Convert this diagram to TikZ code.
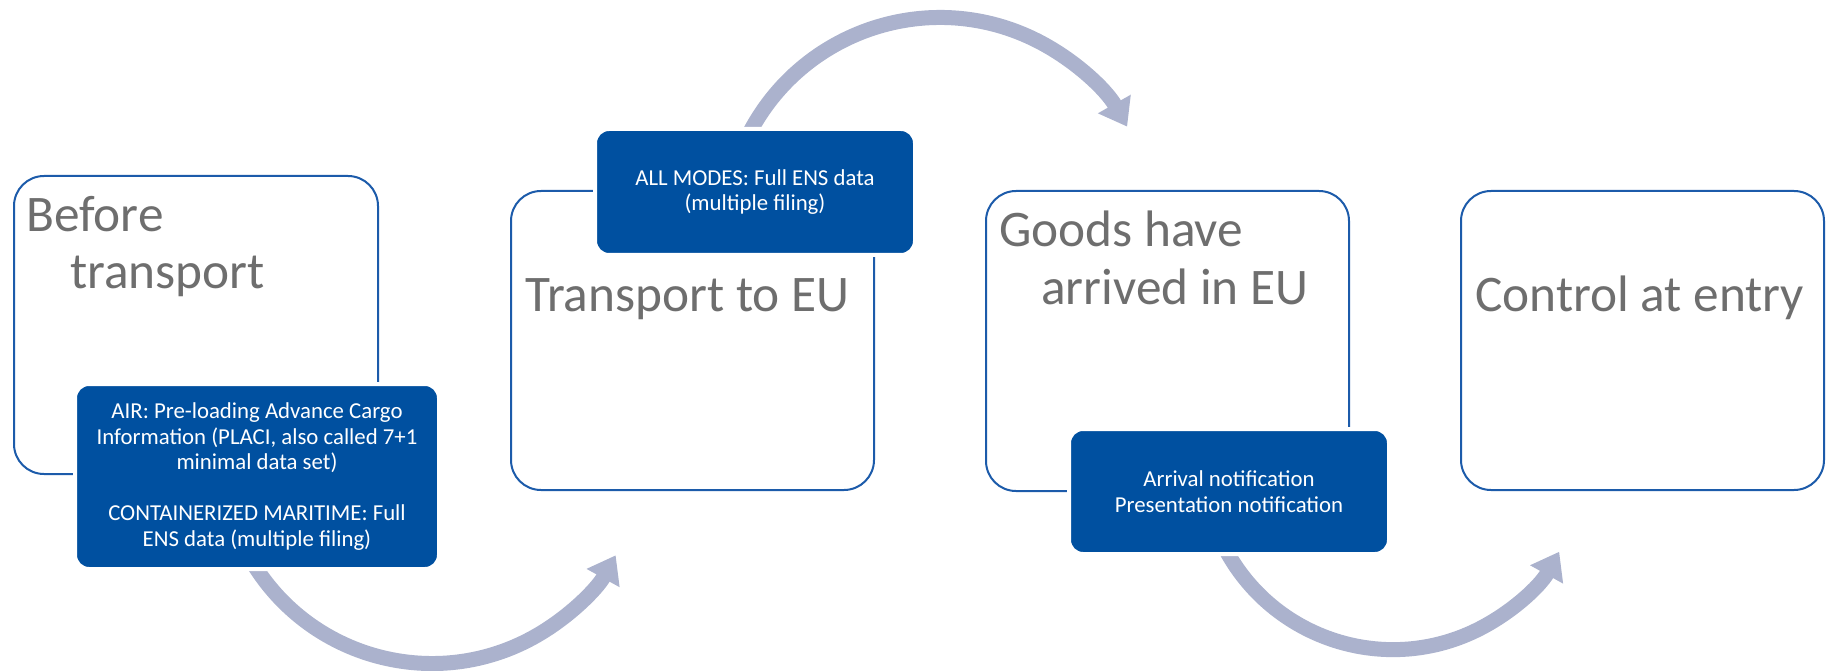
\documentclass[tikz,border=0pt]{standalone}
\usepackage{fontspec}
\setmainfont{Carlito}
\usetikzlibrary{arrows.meta}
\definecolor{boxblue}{HTML}{1C5BAA}
\definecolor{darkblue}{HTML}{0050A0}
\definecolor{arrowgray}{HTML}{ABB2CD}
\definecolor{textgray}{HTML}{6E6E6E}
\begin{document}
\begin{tikzpicture}[x=1pt,y=1pt,
  stagebox/.style={draw=boxblue, line width=2pt, fill=white, rounded corners=30pt, anchor=north west, inner sep=0pt},
  infobox/.style={fill=darkblue, draw=white, line width=4pt, rounded corners=14pt, anchor=north west, inner sep=0pt, text=white, align=center, font=\fontsize{22.8}{25.5}\selectfont},
  stagetext/.style={anchor=base west, inner sep=0pt, text=textgray, font=\fontsize{51.3}{56}\selectfont},
  cyclearrow/.style={draw=arrowgray, line width=15pt, -{Triangle[length=26pt,width=36pt]}}]
\useasboundingbox (0,0) rectangle (1832,-671);

% arrows
\coordinate (a1s) at ([shift={(210:210)}]432,-453.5);
\draw[cyclearrow] (a1s) arc[start angle=210, end angle=331, radius=210];
\coordinate (a2s) at ([shift={(153:215)}]940,-232.5);
\draw[cyclearrow] (a2s) arc[start angle=153, end angle=29.5, radius=215];
\coordinate (a3s) at ([shift={(206:190)}]1393,-459.6);
\draw[cyclearrow] (a3s) arc[start angle=206, end angle=331, radius=190];

% stage boxes
\node[stagebox, minimum width=364pt, minimum height=298pt] (b1) at (13,-175) {};
\node[stagebox, minimum width=363pt, minimum height=299pt] (b2) at (510,-190) {};
\node[stagebox, minimum width=363pt, minimum height=300pt] (b3) at (985,-190) {};
\node[stagebox, minimum width=363pt, minimum height=299pt] (b4) at (1460,-190) {};

% stage texts
\node[stagetext] (t1a) at (26,-232) {Before};
\node[stagetext] (t1b) at (70,-288) {transport};
\node[stagetext] (t2) at (525,-312) {Transport to EU};
\node[stagetext] (t3a) at (999,-247) {Goods have};
\node[stagetext] (t3b) at (1041,-304) {arrived in EU};
\node[stagetext] (t4) at (1475,-312) {Control at entry};

% info boxes
\node[infobox, minimum width=364pt, minimum height=185pt] (d1) at (73,-382)
  {AIR: Pre-loading Advance Cargo\\Information (PLACI, also called 7+1\\minimal data set)\\[25.5pt]CONTAINERIZED MARITIME: Full\\ENS data (multiple filing)};
\node[infobox, minimum width=320pt, minimum height=126pt] (d2) at (593,-127)
  {ALL MODES: Full ENS data\\(multiple filing)};
\node[infobox, minimum width=320pt, minimum height=125pt] (d3) at (1067,-427)
  {Arrival notification\\Presentation notification};
\end{tikzpicture}
\end{document}
